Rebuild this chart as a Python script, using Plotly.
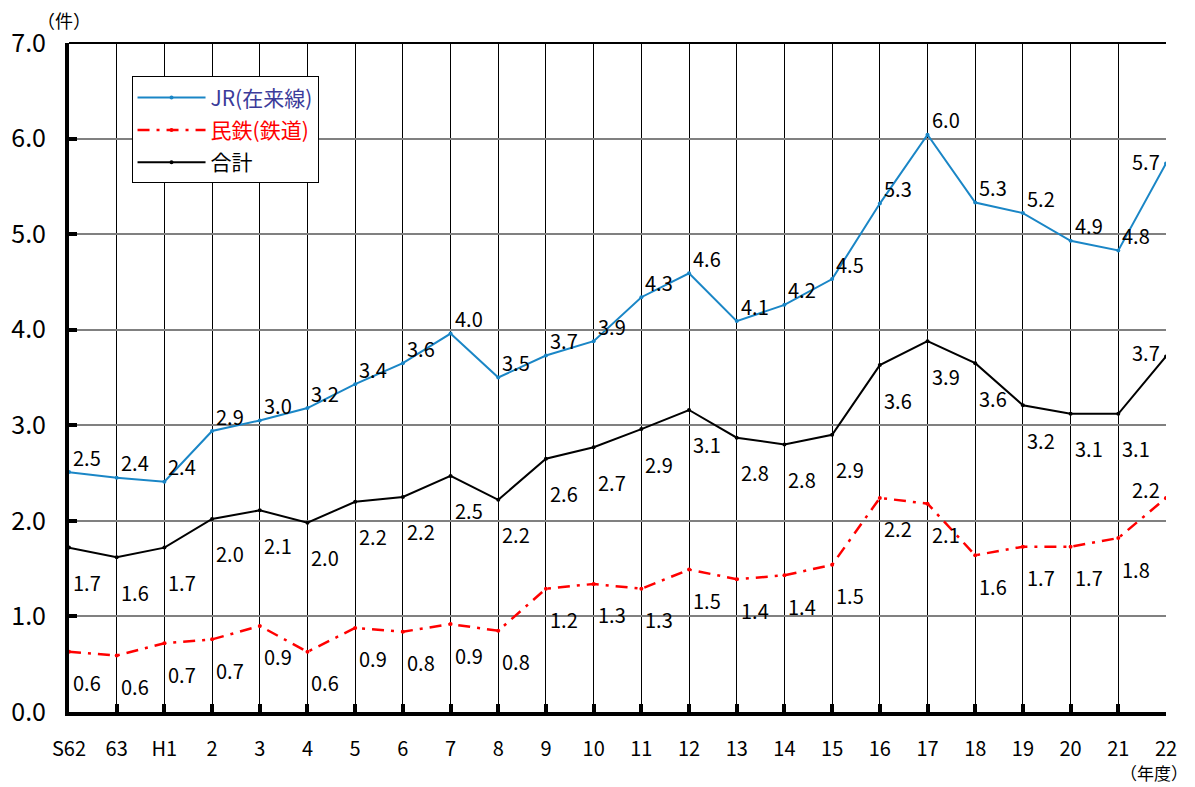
import plotly.graph_objects as go

years = ["S62", "63", "H1", "2", "3", "4", "5", "6", "7", "8", "9", "10", "11",
         "12", "13", "14", "15", "16", "17", "18", "19", "20", "21", "22"]

jr = [2.51, 2.45, 2.41, 2.94, 3.05, 3.18, 3.43, 3.65, 3.96, 3.50, 3.73, 3.88,
      4.34, 4.59, 4.09, 4.26, 4.53, 5.32, 6.04, 5.33, 5.22, 4.93, 4.83, 5.74]
jr_labels = ["2.5", "2.4", "2.4", "2.9", "3.0", "3.2", "3.4", "3.6", "4.0", "3.5", "3.7", "3.9",
             "4.3", "4.6", "4.1", "4.2", "4.5", "5.3", "6.0", "5.3", "5.2", "4.9", "4.8", "5.7"]

private = [0.63, 0.59, 0.72, 0.76, 0.90, 0.63, 0.88, 0.84, 0.92, 0.85, 1.29, 1.34,
           1.29, 1.49, 1.39, 1.43, 1.54, 2.24, 2.18, 1.64, 1.73, 1.73, 1.82, 2.24]
private_labels = ["0.6", "0.6", "0.7", "0.7", "0.9", "0.6", "0.9", "0.8", "0.9", "0.8", "1.2", "1.3",
                  "1.3", "1.5", "1.4", "1.4", "1.5", "2.2", "2.1", "1.6", "1.7", "1.7", "1.8", "2.2"]

total = [1.72, 1.62, 1.72, 2.02, 2.11, 1.98, 2.20, 2.25, 2.47, 2.22, 2.65, 2.77,
         2.96, 3.16, 2.87, 2.80, 2.90, 3.63, 3.88, 3.65, 3.21, 3.12, 3.12, 3.72]
total_labels = ["1.7", "1.6", "1.7", "2.0", "2.1", "2.0", "2.2", "2.2", "2.5", "2.2", "2.6", "2.7",
                "2.9", "3.1", "2.8", "2.8", "2.9", "3.6", "3.9", "3.6", "3.2", "3.1", "3.1", "3.7"]

FONT = "Noto Sans CJK JP"
JR_COLOR = "#1a86c6"

xs = list(range(len(years)))

fig = go.Figure()

fig.add_trace(go.Scatter(
    x=xs, y=jr, mode="lines+markers",
    name="<span style='color:#3b3b9a'>JR(在来線)</span>",
    line=dict(color=JR_COLOR, width=2), marker=dict(size=4, color=JR_COLOR),
    legendgroup="a"))
fig.add_trace(go.Scatter(
    x=xs, y=private, mode="lines+markers",
    name="<span style='color:#ff0000'>民鉄(鉄道)</span>",
    line=dict(color="#ff0000", width=2.5, dash="12px,7px,3px,7px"),
    marker=dict(size=4, color="#ff0000"), legendgroup="b"))
fig.add_trace(go.Scatter(
    x=xs, y=total, mode="lines+markers",
    name="合計",
    line=dict(color="#000000", width=2), marker=dict(size=4, color="#000000"),
    legendgroup="c"))

annotations = []


def add_labels(values, labels, yshift, last_yshift):
    n = len(values)
    for i, (v, t) in enumerate(zip(values, labels)):
        last = i == n - 1
        annotations.append(dict(
            x=xs[i], y=v, xref="x", yref="y", text=t, showarrow=False,
            xanchor="right" if last else "left", yanchor="middle",
            xshift=-4 if last else 2, yshift=last_yshift if last else yshift,
            font=dict(family=FONT, size=20, color="#000000")))


add_labels(jr, jr_labels, 15, 2)
add_labels(total, total_labels, -35, 4)
add_labels(private, private_labels, -31, 8)

annotations.append(dict(xref="paper", yref="paper", x=0, y=1, xanchor="center", yanchor="bottom",
                        xshift=-5, yshift=8, text="（件）", showarrow=False,
                        font=dict(family=FONT, size=18, color="#000000")))
annotations.append(dict(xref="paper", yref="paper", x=1, y=0, xanchor="right", yanchor="middle",
                        xshift=24, yshift=-60, text="（年度）", showarrow=False,
                        font=dict(family=FONT, size=17, color="#000000")))

fig.update_layout(
    width=1195, height=787,
    margin=dict(l=69, r=29, t=43, b=75),
    paper_bgcolor="white", plot_bgcolor="white",
    font=dict(family=FONT, color="#000000"),
    annotations=annotations,
    showlegend=True,
    legend=dict(x=0.057, y=0.95, xanchor="left", yanchor="top",
                bgcolor="white", bordercolor="#000000", borderwidth=1,
                font=dict(family=FONT, size=21, color="#000000"),
                itemwidth=68, traceorder="grouped", tracegroupgap=2),
    shapes=[dict(type="line", xref="paper", yref="paper", x0=0, x1=1, y0=1, y1=1,
                 line=dict(color="#000000", width=2))],
    xaxis=dict(
        range=[0, len(years) - 1], tickmode="array", tickvals=xs, ticktext=years,
        automargin=False,
        showgrid=True, gridcolor="#000000", gridwidth=1,
        showline=True, linecolor="#000000", linewidth=4,
        ticks="inside", ticklen=8, tickwidth=4, tickcolor="#000000",
        ticklabelstandoff=16,
        tickfont=dict(family=FONT, size=20, color="#000000"),
        zeroline=False),
    yaxis=dict(
        range=[0, 7], dtick=1, tick0=0, tickformat=".1f",
        automargin=False,
        showgrid=True, gridcolor="#808080", gridwidth=1.5,
        showline=True, linecolor="#000000", linewidth=4,
        ticks="inside", ticklen=8, tickwidth=4, tickcolor="#000000",
        ticklabelstandoff=14,
        tickfont=dict(family=FONT, size=25, color="#000000"),
        zeroline=False),
)

fig.write_html("out.html")
